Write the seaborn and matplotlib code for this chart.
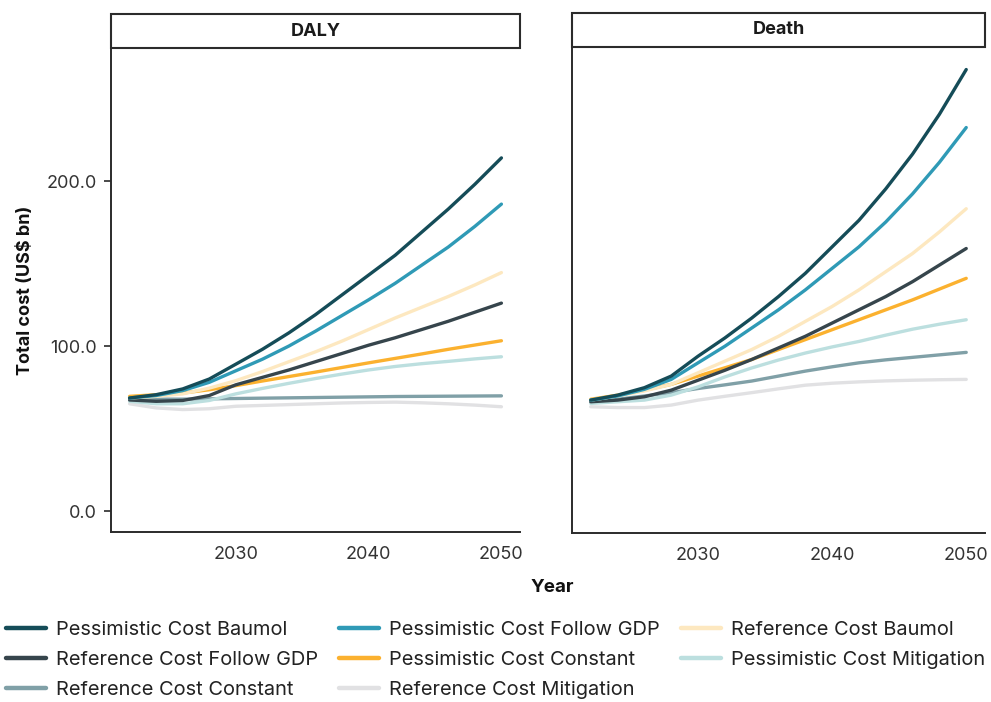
import numpy as np
import pandas as pd
import matplotlib
matplotlib.use("Agg")
import matplotlib.pyplot as plt
from matplotlib.lines import Line2D
from matplotlib.patches import Rectangle
import seaborn as sns

sns.set_theme(style="white")
plt.rcParams["font.family"] = ["Inter", "DejaVu Sans"]

# ---- data -------------------------------------------------------------
years = [2022, 2024, 2026, 2028, 2030, 2032, 2034, 2036, 2038,
         2040, 2042, 2044, 2046, 2048, 2050]

scenarios = [
    "Pessimistic Cost Baumol",
    "Pessimistic Cost Follow GDP",
    "Reference Cost Baumol",
    "Reference Cost Follow GDP",
    "Pessimistic Cost Constant",
    "Pessimistic Cost Mitigation",
    "Reference Cost Constant",
    "Reference Cost Mitigation",
]

daly_pess_baumol = [68.5, 70.5, 74.0, 80.0, 89.0, 98.0, 108.0, 119.0, 131.0,
                    143.0, 155.0, 169.0, 183.0, 198.0, 214.0]
daly_pess_gdp = [68.5, 70.0, 73.0, 78.0, 85.0, 92.0, 100.0, 109.0, 118.5,
                 128.0, 138.0, 149.0, 160.0, 172.5, 186.0]
daly_ref_baumol = [68.5, 69.5, 71.0, 74.5, 79.0, 84.5, 90.5, 96.5, 103.0,
                   110.0, 117.0, 123.5, 130.0, 137.0, 144.5]
daly_ref_gdp = [67.3, 66.5, 67.0, 70.0, 76.5, 81.0, 85.5, 90.5, 95.5,
                100.5, 105.0, 110.0, 115.0, 120.5, 126.0]
daly_pess_const = [69.5, 70.5, 71.5, 73.5, 76.0, 78.8, 81.5, 84.2, 87.0,
                   89.8, 92.5, 95.2, 98.0, 100.6, 103.2]
daly_pess_mitig = [66.5, 65.0, 65.0, 67.0, 71.0, 74.3, 77.4, 80.3, 83.0,
                   85.5, 87.6, 89.3, 90.7, 92.2, 93.5]
daly_ref_const = [68.0, 67.8, 67.8, 68.0, 68.2, 68.4, 68.6, 68.8, 69.0,
                  69.2, 69.4, 69.5, 69.6, 69.7, 69.8]
daly_ref_mitig = [65.0, 62.5, 61.5, 62.0, 63.5, 64.0, 64.5, 65.0, 65.5,
                  65.8, 66.0, 65.6, 65.0, 64.2, 63.2]

death_pess_baumol = [67.5, 70.5, 75.0, 82.0, 94.0, 105.0, 117.0, 130.0, 144.0,
                     160.0, 176.0, 195.0, 216.0, 240.0, 267.0]
death_pess_gdp = [67.5, 70.0, 74.0, 80.0, 90.0, 100.0, 111.0, 122.0, 134.0,
                  147.0, 160.0, 175.0, 192.0, 211.0, 232.0]
death_ref_baumol = [67.5, 70.0, 73.0, 77.0, 84.0, 91.0, 98.0, 106.0, 115.0,
                    124.0, 134.0, 145.0, 156.0, 169.0, 183.0]
death_ref_gdp = [66.5, 67.5, 69.5, 73.5, 79.5, 85.5, 92.0, 99.0, 106.0,
                 114.0, 122.0, 130.0, 139.0, 149.0, 159.0]
death_pess_const = [68.0, 70.5, 73.5, 77.0, 82.0, 87.0, 92.0, 98.0, 104.0,
                    110.0, 116.0, 122.0, 128.0, 134.5, 141.0]
death_pess_mitig = [65.5, 66.5, 67.5, 70.5, 75.5, 81.5, 86.9, 91.7, 95.9,
                    99.6, 102.9, 106.7, 110.3, 113.3, 116.0]
death_ref_const = [66.5, 68.0, 70.0, 72.0, 74.5, 76.7, 79.0, 82.0, 85.0,
                   87.6, 90.0, 91.8, 93.3, 94.8, 96.3]
death_ref_mitig = [63.5, 63.0, 63.0, 64.5, 67.5, 69.8, 72.0, 74.3, 76.5,
                   77.7, 78.5, 79.1, 79.5, 79.8, 80.0]

panels = ["DALY", "Death"]
yticks = [0, 100, 200]

palette = {
    "Pessimistic Cost Baumol": "#154c58",
    "Pessimistic Cost Follow GDP": "#2f9ab6",
    "Reference Cost Baumol": "#fde8c0",
    "Reference Cost Follow GDP": "#36454c",
    "Pessimistic Cost Constant": "#fbb12f",
    "Pessimistic Cost Mitigation": "#bcdfdf",
    "Reference Cost Constant": "#80a0a7",
    "Reference Cost Mitigation": "#e1e1e3",
}

series = {
    "DALY": [daly_pess_baumol, daly_pess_gdp, daly_ref_baumol, daly_ref_gdp,
             daly_pess_const, daly_pess_mitig, daly_ref_const, daly_ref_mitig],
    "Death": [death_pess_baumol, death_pess_gdp, death_ref_baumol, death_ref_gdp,
              death_pess_const, death_pess_mitig, death_ref_const, death_ref_mitig],
}

rows = []
for panel in panels:
    for name, vals in zip(scenarios, series[panel]):
        for yr, v in zip(years, vals):
            rows.append({"Measure": panel, "Scenario": name, "Year": yr, "Cost": v})
df = pd.DataFrame(rows)

# ---- figure -----------------------------------------------------------
W, H = 991, 702
fig = plt.figure(figsize=(W / 100, H / 100), dpi=100)

def frac_box(x0, y0, x1, y1):
    return [x0 / W, 1 - y1 / H, (x1 - x0) / W, (y1 - y0) / H]

ax_boxes = [frac_box(111, 48, 520, 532), frac_box(572, 47, 985, 533)]
ink = "#2b2b2b"

draw_order = scenarios[::-1]
for i, (panel, box) in enumerate(zip(panels, ax_boxes)):
    ax = fig.add_axes(box)
    sub = df[df["Measure"] == panel]
    sns.lineplot(data=sub, x="Year", y="Cost", hue="Scenario",
                 hue_order=draw_order, palette=palette, linewidth=2.4,
                 legend=False, ax=ax)
    ax.set_xlim(2020.6, 2051.4)
    ax.set_ylim(-12.7, 280.6)
    ax.set_xticks([2030, 2040, 2050])
    ax.set_xlabel("")
    for side in ["top", "right"]:
        ax.spines[side].set_visible(False)
    for side in ["left", "bottom"]:
        ax.spines[side].set_color(ink)
        ax.spines[side].set_linewidth(1.4)
    ax.tick_params(axis="x", length=5, width=1.2, color=ink,
                   labelsize=13, labelcolor="#333333", pad=5)
    if i == 0:
        ax.set_yticks(yticks)
        ax.set_yticklabels([f"{t:.1f}" for t in yticks])
        ax.tick_params(axis="y", length=5, width=1.2, color=ink,
                       labelsize=13, labelcolor="#333333", pad=5, left=True)
        ax.set_ylabel("Total cost (US$ bn)", fontsize=13, fontweight="bold",
                      color="#111111", labelpad=9)
    else:
        ax.set_yticks([])
        ax.set_ylabel("")

    # facet strip
    strip = Rectangle((0, 1.0), 1, 34 / (box[3] * H), transform=ax.transAxes,
                      facecolor="white", edgecolor=ink, linewidth=1.5,
                      clip_on=False)
    ax.add_patch(strip)
    ax.text(0.5, 1.0 + 17 / (box[3] * H), panel, transform=ax.transAxes,
            ha="center", va="center", fontsize=13, fontweight="bold",
            color="#1a1a1a")

fig.text(552 / W, 1 - 587 / H, "Year", ha="center", va="center",
         fontsize=13.5, fontweight="bold", color="#111111")

# legend filled column by column so that it reads row by row
legend_order = [0, 3, 6, 1, 4, 7, 2, 5]
handles = [Line2D([0], [0], color=palette[scenarios[k]], linewidth=3.2)
           for k in legend_order]
labels = [scenarios[k] for k in legend_order]
fig.legend(handles, labels, ncol=3, loc="upper left",
           bbox_to_anchor=(0.0, 1 - 615 / H), frameon=False,
           fontsize=14.4, handlelength=2.0, handletextpad=0.5,
           columnspacing=1.05, labelspacing=0.6, borderaxespad=0.0,
           borderpad=0.3, labelcolor="#222222")

fig.savefig("out.png", dpi=100, facecolor="white")
